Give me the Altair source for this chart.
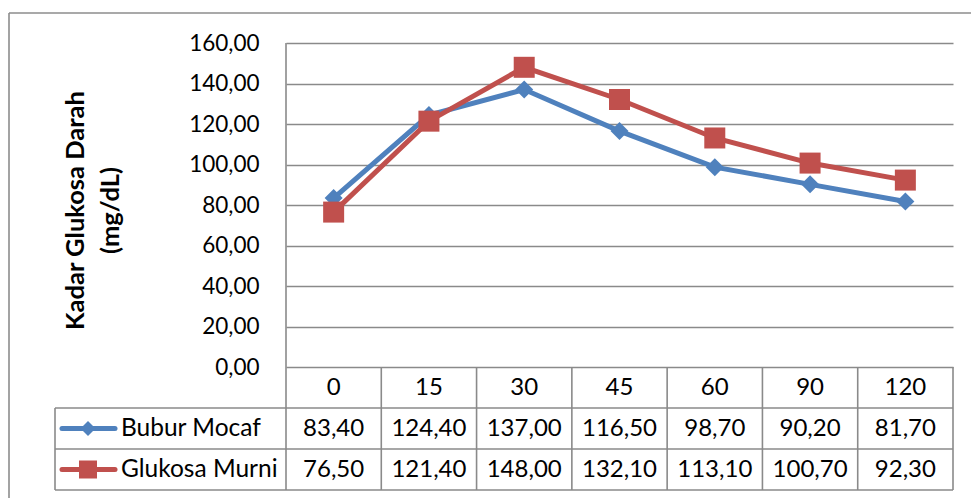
import altair as alt
import pandas as pd

# ---------------- data ----------------
times = ["0", "15", "30", "45", "60", "90", "120"]
bubur_mocaf = [83.40, 124.40, 137.00, 116.50, 98.70, 90.20, 81.70]
glukosa_murni = [76.50, 121.40, 148.00, 132.10, 113.10, 100.70, 92.30]
series_names = ["Bubur Mocaf", "Glukosa Murni"]
series_colors = ["#4F81BD", "#C0504D"]
series_shapes = ["diamond", "square"]
y_ticks = [0, 20, 40, 60, 80, 100, 120, 140, 160]
y_title = ["Kadar Glukosa Darah", "(mg/dL)"]

# ---------------- layout / style ----------------
FONT = "Lato"
FS_TICK = 22.5
FS_TABLE = 24
FS_LEG = 24.5
FS_TITLE = 25.5
W, H = 667, 324
LEFT, TOP = 286, 43
GRID = "#8a8a8a"
STEP = W / len(times)
ROW_Y = [385.5, 426.5]      # table row centres (plot coords)
HEAD_Y = 344.5
MARK_SIZE = [324, 441]
LEG_SIZE = [225, 324]

df = pd.DataFrame({
    "time": times * 2,
    "series": [series_names[0]] * len(times) + [series_names[1]] * len(times),
    "value": bubur_mocaf + glukosa_murni,
})
tdf = pd.DataFrame({"time": times})
one = pd.DataFrame({"k": [0]})

x_enc = alt.X("time:O", sort=times,
              scale=alt.Scale(type="point", domain=times, padding=0.5),
              axis=None)
y_enc = alt.Y(
    "value:Q",
    scale=alt.Scale(domain=[0, 160], nice=False, zero=True),
    axis=alt.Axis(
        values=y_ticks,
        labelExpr="replace(format(datum.value, '.2f'), '.', ',')",
        grid=True, gridColor=GRID, gridWidth=1.6,
        domain=False, ticks=False, labelPadding=27,
        labelFont=FONT, labelFontSize=FS_TICK, labelColor="black",
        title=y_title, titleFont=FONT, titleFontSize=FS_TITLE, titleFontWeight="bold",
        titleColor="black", titleAngle=270, titleX=-211, titleY=167,
        titleAlign="center", titleBaseline="middle", titleLineHeight=35,
    ),
)

layers = []

# outer frame (top and left edges)
layers.append(alt.Chart(one).mark_rule(color="#8c8c8c", strokeWidth=1.6).encode(
    x=alt.value(-277), x2=alt.value(700), y=alt.value(-30)))
layers.append(alt.Chart(one).mark_rule(color="#8c8c8c", strokeWidth=1.6).encode(
    x=alt.value(-277), y=alt.value(-30), y2=alt.value(470)))

# series lines + markers
for i, name in enumerate(series_names):
    sub = df[df["series"] == name]
    layers.append(alt.Chart(sub).mark_line(color=series_colors[i], strokeWidth=5).encode(
        x=x_enc, y=y_enc))
    layers.append(alt.Chart(sub).mark_point(
        shape=series_shapes[i], filled=True, opacity=1, color=series_colors[i],
        size=MARK_SIZE[i]).encode(x=x_enc, y=y_enc))

# table grid
layers.append(alt.Chart(one).mark_rule(color=GRID, strokeWidth=1.6).encode(
    x=alt.value(0), y=alt.value(0), y2=alt.value(447)))
layers.append(alt.Chart(tdf).mark_rule(color=GRID, strokeWidth=1.6, xOffset=STEP / 2).encode(
    x=x_enc, y=alt.value(324), y2=alt.value(447)))
for yy in [365, 406, 447]:
    layers.append(alt.Chart(one).mark_rule(color=GRID, strokeWidth=1.6).encode(
        x=alt.value(-231), x2=alt.value(W), y=alt.value(yy)))
layers.append(alt.Chart(one).mark_rule(color=GRID, strokeWidth=1.6).encode(
    x=alt.value(-231), y=alt.value(365), y2=alt.value(447)))

# header row (time labels)
layers.append(alt.Chart(tdf).mark_text(font=FONT, fontSize=FS_TABLE, color="black",
                                       baseline="middle", align="center").encode(
    x=x_enc, y=alt.value(HEAD_Y), text="time:N"))

# value rows + legend keys
for i, name in enumerate(series_names):
    sub = df[df["series"] == name]
    layers.append(alt.Chart(sub).transform_calculate(
        label="replace(format(datum.value, '.2f'), '.', ',')"
    ).mark_text(font=FONT, fontSize=FS_TABLE, color="black", baseline="middle", align="center").encode(
        x=x_enc, y=alt.value(ROW_Y[i]), text="label:N"))
    leg = pd.DataFrame({"series": [name]})
    layers.append(alt.Chart(leg).mark_rule(color=series_colors[i], strokeWidth=5, strokeCap="round").encode(
        x=alt.value(-224), x2=alt.value(-171), y=alt.value(ROW_Y[i])))
    layers.append(alt.Chart(leg).mark_point(shape=series_shapes[i], filled=True, opacity=1,
                                            color=series_colors[i], size=LEG_SIZE[i]).encode(
        x=alt.value(-198), y=alt.value(ROW_Y[i])))
    layers.append(alt.Chart(leg).mark_text(font=FONT, fontSize=FS_LEG, color="black",
                                           baseline="middle", align="left").encode(
        x=alt.value(-165), y=alt.value(ROW_Y[i]), text="series:N"))

chart = alt.layer(*layers).properties(
    width=W, height=H,
    padding={"left": LEFT, "top": TOP, "right": 971 - LEFT - W, "bottom": 498 - TOP - H},
    autosize=alt.AutoSizeParams(type="none"),
    background="white",
).configure_view(stroke=None)

chart.save("out.html", embed_options={"renderer": "svg", "actions": False})
